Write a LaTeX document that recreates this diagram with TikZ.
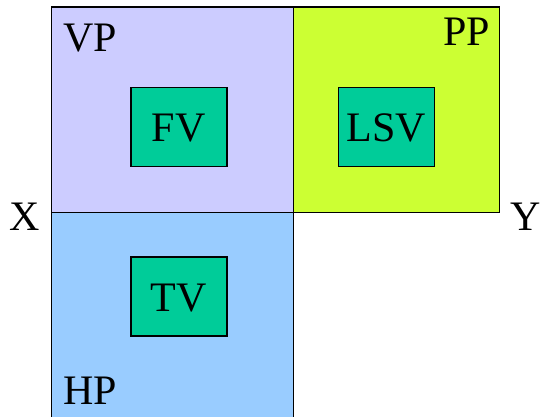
\documentclass[tikz,border=0pt]{standalone}
\usepackage{fontspec}
\setmainfont{Liberation Serif}
\definecolor{vpcol}{HTML}{CCCCFF}
\definecolor{ppcol}{HTML}{CCFF33}
\definecolor{hpcol}{HTML}{99CCFF}
\definecolor{viewcol}{HTML}{00CC99}
\tikzset{
  plane/.style={draw=black, line width=1.2pt, inner sep=0pt, anchor=north west},
  viewbox/.style={draw=black, line width=1.5pt, fill=viewcol, inner sep=0pt,
    minimum width=96pt, minimum height=79pt, text height=29pt, text depth=0pt,
    font=\fontsize{42}{50}\selectfont},
  lbl/.style={inner sep=0pt, anchor=base west, font=\fontsize{42}{50}\selectfont}
}
\begin{document}
\begin{tikzpicture}[x=1pt,y=-1pt]
\useasboundingbox (0,0) rectangle (543,417);
\node[plane, fill=vpcol, minimum width=242pt, minimum height=205pt] (vp) at (51,6.5) {};
\node[plane, fill=ppcol, minimum width=206pt, minimum height=205pt] (pp) at (293,6.5) {};
\node[plane, fill=hpcol, minimum width=242pt, minimum height=205pt] (hp) at (51,211.5) {};
\node[viewbox] (fv) at (178.8,127) {FV};
\node[viewbox] (lsv) at (386.5,127) {LSV};
\node[viewbox] (tv) at (178.8,296.7) {TV};
\node[lbl] (vpl) at (63,52) {VP};
\node[lbl] (ppl) at (443,46) {PP};
\node[lbl] (hpl) at (63,404) {HP};
\node[lbl] (xl) at (9,230) {X};
\node[lbl] (yl) at (510,230) {Y};
\end{tikzpicture}
\end{document}
